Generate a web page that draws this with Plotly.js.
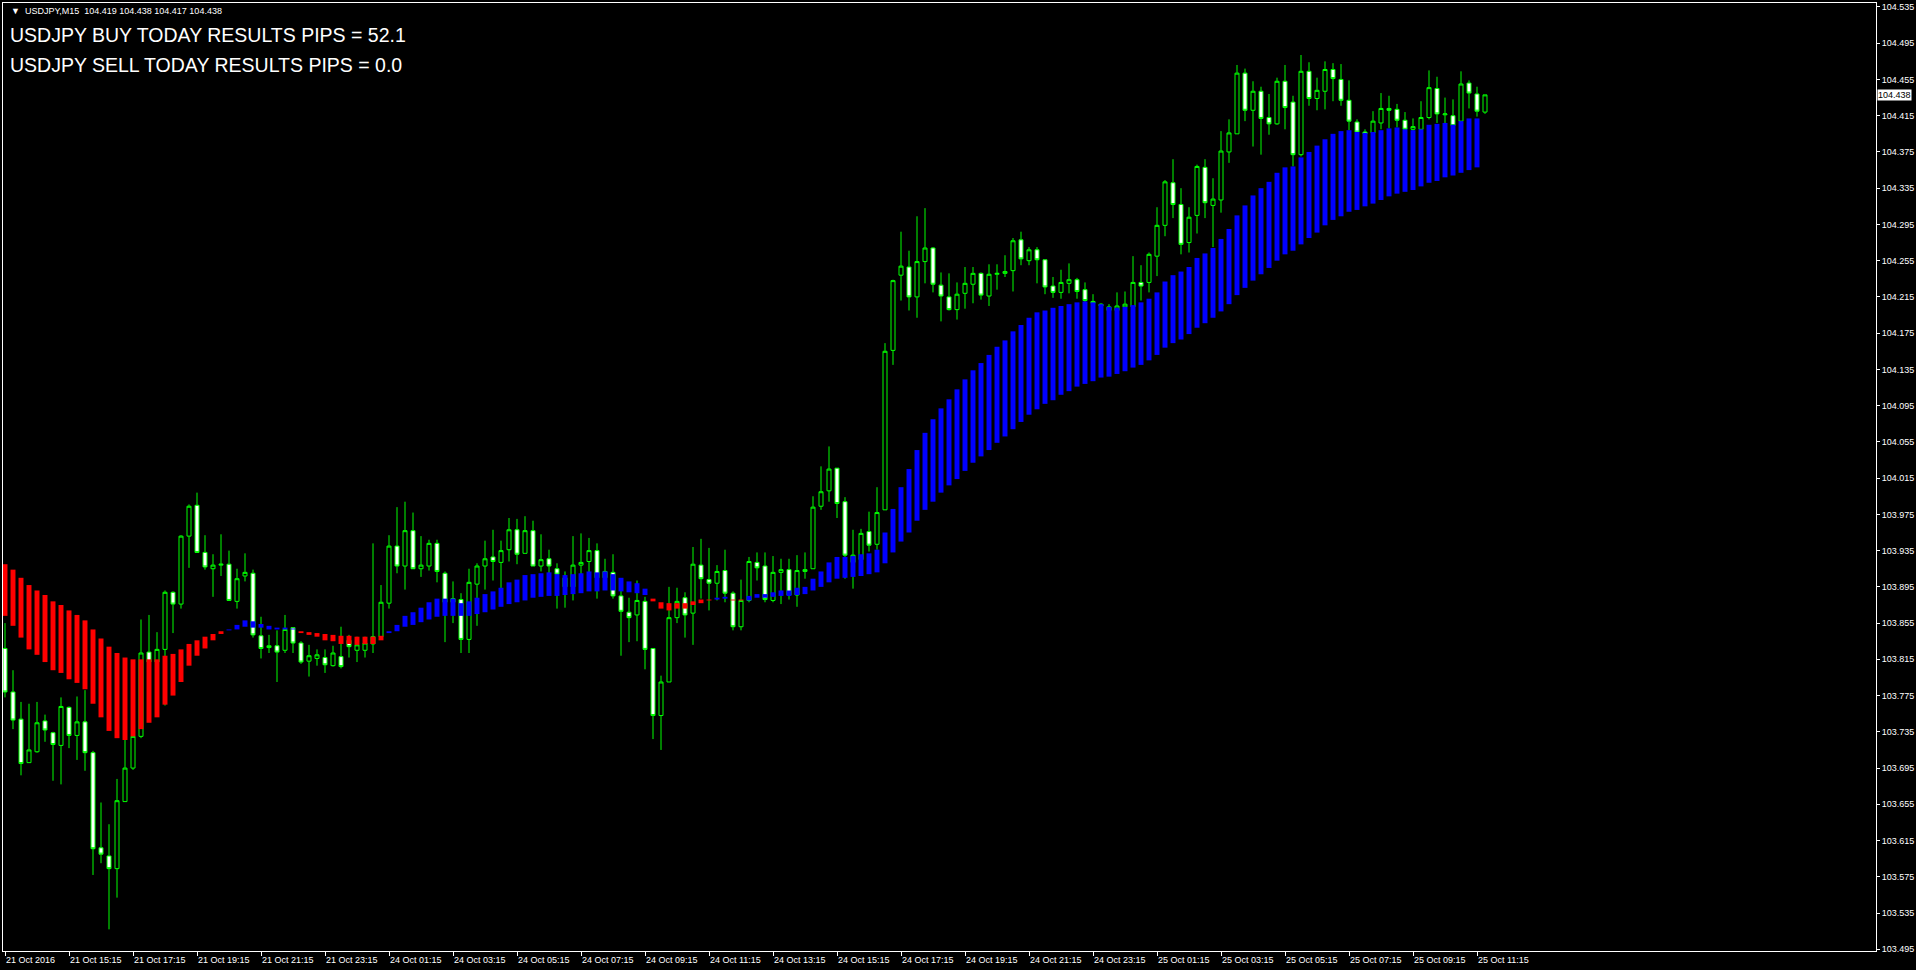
<!DOCTYPE html>
<html><head><meta charset="utf-8">
<script src="https://cdn.plot.ly/plotly-3.0.1.min.js"></script>
<style>html,body{margin:0;padding:0;background:#000;overflow:hidden}#chart{width:1916px;height:970px}</style>
</head><body><div id="chart"></div>
<script>
const symbolName = "USDJPY,M15";
const buyLabel = "USDJPY BUY TODAY RESULTS PIPS";
const sellLabel = "USDJPY SELL TODAY RESULTS PIPS";
const buyPips = "52.1";
const sellPips = "0.0";

const xTickLabels = ["21 Oct 2016","21 Oct 15:15","21 Oct 17:15","21 Oct 19:15","21 Oct 21:15","21 Oct 23:15",
  "24 Oct 01:15","24 Oct 03:15","24 Oct 05:15","24 Oct 07:15","24 Oct 09:15","24 Oct 11:15","24 Oct 13:15",
  "24 Oct 15:15","24 Oct 17:15","24 Oct 19:15","24 Oct 21:15","24 Oct 23:15","25 Oct 01:15","25 Oct 03:15",
  "25 Oct 05:15","25 Oct 07:15","25 Oct 09:15","25 Oct 11:15"];
const barsPerTick = 8;

const yTickLabels = ["103.495","103.535","103.575","103.615","103.655","103.695","103.735","103.775","103.815",
  "103.855","103.895","103.935","103.975","104.015","104.055","104.095","104.135","104.175","104.215","104.255",
  "104.295","104.335","104.375","104.415","104.455","104.495","104.535"];

const openP = [
103.827,103.779,103.749,103.701,103.713,103.747,103.734,103.720,103.762,103.731,
103.746,103.712,103.607,103.598,103.584,103.658,103.695,103.730,103.823,103.812,
103.826,103.889,103.876,103.951,103.985,103.933,103.915,103.919,103.920,103.879,
103.907,103.910,103.841,103.828,103.830,103.825,103.850,103.833,103.813,103.816,
103.817,103.808,103.818,103.836,103.825,103.825,103.832,103.840,103.877,103.940,
103.918,103.957,103.915,103.918,103.943,103.910,103.878,103.881,103.837,103.898,
103.918,103.928,103.922,103.936,103.958,103.932,103.957,103.918,103.926,103.915,
103.905,103.895,103.919,103.923,103.935,103.905,103.911,103.885,103.867,103.864,
103.879,103.827,103.753,103.790,103.861,103.883,103.866,103.919,103.903,103.899,
103.913,103.888,103.851,103.880,103.922,103.918,103.880,103.911,103.914,103.886,
103.912,103.915,103.984,104.001,104.026,103.989,103.922,103.925,103.956,103.942,
103.980,104.156,104.239,104.248,104.215,104.254,104.269,104.228,104.215,104.201,
104.219,104.229,104.241,104.216,104.240,104.241,104.244,104.278,104.255,104.267,
104.256,104.227,104.220,104.230,104.234,104.223,104.210,104.207,104.204,104.200,
104.204,104.204,104.231,104.231,104.260,104.294,104.341,104.317,104.275,104.305,
104.358,104.316,104.322,104.375,104.395,104.462,104.421,104.442,104.413,104.406,
104.453,104.430,104.372,104.464,104.434,104.442,104.466,104.455,104.432,104.408,
104.397,104.396,104.407,104.423,104.422,104.410,104.400,104.400,104.413,104.445,
104.416,104.415,104.409,104.451,104.439,104.419];

const highP = [
103.855,103.803,103.768,103.766,103.768,103.754,103.735,103.773,103.763,103.774,
103.781,103.714,103.657,103.633,103.683,103.726,103.745,103.859,103.864,103.845,
103.891,103.890,103.952,103.986,103.999,103.952,103.931,103.953,103.935,103.915,
103.932,103.914,103.862,103.842,103.847,103.864,103.850,103.835,103.831,103.826,
103.826,103.830,103.851,103.842,103.840,103.840,103.943,103.897,103.952,103.983,
103.989,103.977,103.951,103.947,103.947,103.912,103.901,103.888,103.915,103.921,
103.946,103.958,103.946,103.971,103.970,103.973,103.968,103.953,103.936,103.921,
103.912,103.951,103.954,103.949,103.943,103.926,103.931,103.892,103.883,103.902,
103.884,103.827,103.797,103.895,103.894,103.889,103.939,103.948,103.938,103.919,
103.936,103.890,103.903,103.928,103.933,103.933,103.929,103.926,103.926,103.930,
103.933,103.995,104.028,104.050,104.026,103.994,103.958,103.959,103.978,104.005,
104.164,104.234,104.287,104.266,104.304,104.313,104.270,104.242,104.241,104.231,
104.248,104.248,104.242,104.251,104.251,104.261,104.280,104.287,104.270,104.270,
104.256,104.237,104.245,104.252,104.236,104.231,104.218,104.208,104.207,104.220,
104.221,104.260,104.250,104.264,104.314,104.344,104.367,104.335,104.314,104.361,
104.367,104.346,104.398,104.411,104.471,104.467,104.453,104.447,104.439,104.457,
104.471,104.437,104.482,104.474,104.457,104.475,104.473,104.472,104.454,104.411,
104.400,104.420,104.440,104.437,104.428,104.419,104.412,104.431,104.465,104.458,
104.435,104.433,104.464,104.454,104.447,104.438];

const lowP = [
103.773,103.738,103.687,103.701,103.712,103.724,103.681,103.677,103.717,103.704,
103.692,103.577,103.590,103.517,103.552,103.658,103.693,103.728,103.800,103.805,
103.764,103.844,103.871,103.916,103.933,103.914,103.884,103.907,103.880,103.871,
103.901,103.839,103.816,103.822,103.790,103.822,103.822,103.810,103.796,103.808,
103.800,103.807,103.805,103.817,103.812,103.817,103.822,103.840,103.871,103.910,
103.892,103.915,103.906,103.913,103.900,103.834,103.855,103.822,103.822,103.852,
103.892,103.902,103.892,103.923,103.920,103.932,103.918,103.912,103.910,103.871,
103.872,103.880,103.905,103.910,103.882,103.895,103.882,103.819,103.834,103.835,
103.804,103.727,103.715,103.790,103.855,103.839,103.831,103.882,103.869,103.880,
103.878,103.847,103.847,103.878,103.902,103.878,103.878,103.876,103.881,103.873,
103.904,103.915,103.980,103.989,103.971,103.904,103.893,103.919,103.934,103.936,
103.980,104.140,104.211,104.200,104.192,104.230,104.220,104.188,104.200,104.190,
104.202,104.208,104.212,104.205,104.223,104.237,104.221,104.250,104.250,104.230,
104.218,104.214,104.213,104.219,104.213,104.206,104.202,104.200,104.195,104.195,
104.198,104.200,104.211,104.220,104.238,104.282,104.302,104.262,104.264,104.285,
104.302,104.270,104.308,104.363,104.395,104.409,104.381,104.372,104.394,104.405,
104.400,104.359,104.370,104.426,104.421,104.422,104.431,104.426,104.399,104.390,
104.388,104.390,104.400,104.401,104.402,104.395,104.395,104.396,104.411,104.407,
104.405,104.398,104.404,104.423,104.414,104.417];

const closeP = [
103.779,103.748,103.700,103.715,103.745,103.737,103.721,103.763,103.731,103.746,
103.712,103.606,103.600,103.584,103.659,103.695,103.730,103.822,103.812,103.826,
103.889,103.876,103.951,103.984,103.933,103.917,103.919,103.920,103.880,103.904,
103.911,103.842,103.827,103.830,103.823,103.848,103.833,103.812,103.819,103.820,
103.809,103.822,103.807,103.829,103.831,103.833,103.840,103.878,103.940,103.918,
103.957,103.915,103.919,103.943,103.912,103.878,103.882,103.837,103.900,103.918,
103.926,103.923,103.935,103.958,103.931,103.957,103.918,103.925,103.918,103.909,
103.895,103.919,103.922,103.935,103.905,103.912,103.885,103.868,103.861,103.880,
103.826,103.753,103.790,103.861,103.879,103.864,103.920,103.904,103.899,103.912,
103.888,103.851,103.880,103.923,103.916,103.881,103.911,103.914,103.886,103.913,
103.914,103.983,104.000,104.025,103.987,103.930,103.930,103.954,103.941,103.977,
104.155,104.233,104.249,104.215,104.254,104.269,104.229,104.216,104.201,104.218,
104.230,104.241,104.217,104.240,104.241,104.243,104.277,104.257,104.267,104.256,
104.226,104.220,104.231,104.234,104.221,104.211,104.208,104.205,104.200,104.205,
104.207,104.231,104.227,104.262,104.294,104.342,104.317,104.273,104.303,104.359,
104.319,104.323,104.376,104.396,104.462,104.421,104.442,104.412,104.406,104.453,
104.424,104.372,104.464,104.434,104.443,104.466,104.456,104.432,104.409,104.397,
104.395,104.409,104.423,104.421,104.410,104.400,104.403,104.413,104.446,104.417,
104.417,104.404,104.450,104.440,104.420,104.438];

const indTop = [
103.920,103.914,103.905,103.897,103.891,103.886,103.879,103.875,103.869,103.864,
103.858,103.848,103.838,103.829,103.822,103.817,103.815,103.815,103.815,103.815,
103.819,103.821,103.826,103.832,103.836,103.840,103.843,103.846,103.848,103.853,
103.858,103.857,103.854,103.852,103.850,103.850,103.849,103.846,103.845,103.844,
103.843,103.842,103.841,103.841,103.840,103.840,103.840,103.841,103.846,103.853,
103.863,103.867,103.872,103.878,103.882,103.882,103.882,103.877,103.879,103.883,
103.887,103.890,103.894,103.900,103.903,103.908,103.909,103.910,103.911,103.909,
103.908,103.909,103.910,103.912,103.911,103.912,103.909,103.905,103.901,103.899,
103.893,103.882,103.878,103.877,103.877,103.877,103.879,103.881,103.881,103.883,
103.884,103.881,103.881,103.885,103.887,103.887,103.889,103.891,103.891,103.894,
103.895,103.904,103.912,103.922,103.928,103.928,103.929,103.931,103.932,103.936,
103.955,103.981,104.005,104.025,104.046,104.065,104.080,104.092,104.102,104.113,
104.124,104.134,104.142,104.151,104.160,104.167,104.177,104.184,104.192,104.198,
104.200,104.203,104.205,104.207,104.209,104.210,104.209,104.207,104.204,104.203,
104.204,104.206,104.209,104.213,104.220,104.232,104.239,104.243,104.248,104.258,
104.263,104.269,104.279,104.290,104.305,104.316,104.327,104.335,104.342,104.352,
104.358,104.359,104.369,104.375,104.382,104.389,104.395,104.398,104.399,104.397,
104.396,104.397,104.399,104.401,104.402,104.400,104.399,104.400,104.405,104.406,
104.407,104.405,104.409,104.412,104.412];

const indBottom = [
103.863,103.852,103.839,103.826,103.820,103.812,103.803,103.800,103.793,103.789,
103.782,103.766,103.751,103.736,103.728,103.726,103.730,103.738,103.745,103.751,
103.765,103.775,103.790,103.808,103.819,103.827,103.836,103.843,103.847,103.848,
103.851,103.850,103.850,103.848,103.848,103.848,103.848,103.844,103.842,103.840,
103.836,103.835,103.832,103.832,103.831,103.832,103.832,103.836,103.844,103.846,
103.851,103.853,103.856,103.859,103.862,103.863,103.863,103.863,103.863,103.865,
103.867,103.870,103.873,103.876,103.878,103.880,103.883,103.884,103.885,103.885,
103.886,103.887,103.888,103.890,103.890,103.891,103.891,103.890,103.889,103.888,
103.886,103.879,103.871,103.869,103.871,103.871,103.875,103.877,103.880,103.881,
103.882,103.880,103.880,103.880,103.883,103.883,103.884,103.885,103.885,103.886,
103.887,103.891,103.895,103.900,103.904,103.905,103.906,103.907,103.909,103.911,
103.921,103.933,103.945,103.955,103.968,103.980,103.989,103.999,104.007,104.014,
104.023,104.032,104.039,104.046,104.054,104.061,104.069,104.077,104.085,104.091,
104.097,104.101,104.107,104.111,104.116,104.119,104.122,104.126,104.127,104.130,
104.133,104.137,104.140,104.145,104.151,104.159,104.164,104.168,104.174,104.181,
104.186,104.192,104.199,104.207,104.217,104.225,104.233,104.240,104.247,104.255,
104.262,104.266,104.273,104.280,104.286,104.294,104.300,104.304,104.309,104.311,
104.315,104.318,104.322,104.326,104.329,104.331,104.333,104.337,104.341,104.343,
104.347,104.349,104.352,104.355,104.358];

// 1 = up trend (blue), -1 = down trend (red)
const indTrend = [
-1,-1,-1,-1,-1,-1,-1,-1,-1,-1,
-1,-1,-1,-1,-1,-1,-1,-1,-1,-1,
-1,-1,-1,-1,-1,-1,-1,-1, 1, 1,
 1, 1, 1, 1, 1, 1, 1,-1,-1,-1,
-1,-1,-1,-1,-1,-1,-1,-1, 1, 1,
 1, 1, 1, 1, 1, 1, 1, 1, 1, 1,
 1, 1, 1, 1, 1, 1, 1, 1, 1, 1,
 1, 1, 1, 1, 1, 1, 1, 1, 1, 1,
 1,-1,-1,-1,-1,-1,-1,-1,-1, 1,
 1,-1,-1, 1, 1, 1, 1, 1, 1, 1,
 1, 1, 1, 1, 1, 1, 1, 1, 1, 1,
 1, 1, 1, 1, 1, 1, 1, 1, 1, 1,
 1, 1, 1, 1, 1, 1, 1, 1, 1, 1,
 1, 1, 1, 1, 1, 1, 1, 1, 1, 1,
 1, 1, 1, 1, 1, 1, 1, 1, 1, 1,
 1, 1, 1, 1, 1, 1, 1, 1, 1, 1,
 1, 1, 1, 1, 1, 1, 1, 1, 1, 1,
 1, 1, 1, 1, 1, 1, 1, 1, 1, 1,
 1, 1, 1, 1, 1];

// ---------- build traces ----------
const barIdx = openP.map((_, i) => i);
const indIdx = indTop.map((_, i) => i);

function indSeries(dir) {
  const base = [], len = [];
  indIdx.forEach(i => {
    if (indTrend[i] === dir) {
      base.push(indBottom[i]);
      len.push(indTop[i] - indBottom[i]);
    } else { base.push(null); len.push(null); }
  });
  return {base, len};
}
const red = indSeries(-1), blue = indSeries(1);

const candles = {
  type: 'candlestick', x: barIdx, open: openP, high: highP, low: lowP, close: closeP,
  xaxis: 'x', yaxis: 'y', hoverinfo: 'skip', whiskerwidth: 0,
  increasing: {line: {color: '#00ff00', width: 1}, fillcolor: '#000000'},
  decreasing: {line: {color: '#00ff00', width: 1}, fillcolor: '#ffffff'}
};
const redBars = {type: 'bar', x: indIdx, y: red.len, base: red.base, width: 0.62,
  marker: {color: '#ff0000', line: {width: 0}}, xaxis: 'x2', yaxis: 'y2', hoverinfo: 'skip'};
const blueBars = {type: 'bar', x: indIdx, y: blue.len, base: blue.base, width: 0.62,
  marker: {color: '#0000ff', line: {width: 0}}, xaxis: 'x2', yaxis: 'y2', hoverinfo: 'skip'};

const xRange = [-0.25, 233.875];
const yRange = [103.4931, 104.5394];
const axFont = {family: 'Liberation Sans, Arial, sans-serif', size: 9, color: '#ffffff'};
const last = closeP.length - 1;

const layout = {
  width: 1916, height: 970,
  paper_bgcolor: '#000000', plot_bgcolor: '#000000',
  margin: {l: 3, r: 40, t: 3, b: 19, pad: 0},
  showlegend: false, barmode: 'overlay', boxgap: 0.5, boxgroupgap: 0,
  xaxis: {
    range: xRange, showgrid: false, zeroline: false, showline: true, mirror: true,
    linecolor: '#ffffff', linewidth: 1, ticks: 'outside', ticklen: 4, tickcolor: '#ffffff',
    tickvals: xTickLabels.map((_, k) => k * barsPerTick), ticktext: xTickLabels,
    tickfont: axFont, ticklabelposition: 'outside right', tickangle: 0,
    rangeslider: {visible: false}, fixedrange: true, automargin: false
  },
  yaxis: {
    range: yRange, side: 'right', showgrid: false, zeroline: false, showline: true, mirror: true,
    linecolor: '#ffffff', linewidth: 1, ticks: 'outside', ticklen: 3, tickcolor: '#ffffff',
    tickvals: yTickLabels.map(Number), ticktext: yTickLabels, tickfont: axFont,
    fixedrange: true, automargin: false
  },
  xaxis2: {overlaying: 'x', range: xRange, visible: false, fixedrange: true},
  yaxis2: {overlaying: 'y', range: yRange, visible: false, fixedrange: true},
  annotations: [
    {xref: 'paper', yref: 'paper', x: 0, y: 1, xanchor: 'left', yanchor: 'top', xshift: 6, yshift: -1,
     showarrow: false, align: 'left',
     text: '\u25BC  ' + symbolName + '  ' + [openP[last], highP[last], lowP[last], closeP[last]].map(v => v.toFixed(3)).join(' '),
     font: {family: 'Liberation Sans, Arial, sans-serif', size: 9, color: '#ffffff'}},
    {xref: 'paper', yref: 'paper', x: 0, y: 1, xanchor: 'left', yanchor: 'top', xshift: 5, yshift: -19,
     showarrow: false, align: 'left', text: buyLabel + ' = ' + buyPips,
     font: {family: 'Liberation Sans, Arial, sans-serif', size: 19.5, color: '#ffffff'}},
    {xref: 'paper', yref: 'paper', x: 0, y: 1, xanchor: 'left', yanchor: 'top', xshift: 5, yshift: -49,
     showarrow: false, align: 'left', text: sellLabel + ' = ' + sellPips,
     font: {family: 'Liberation Sans, Arial, sans-serif', size: 19.5, color: '#ffffff'}},
    {xref: 'paper', yref: 'y', x: 1, y: closeP[last], xanchor: 'left', yanchor: 'middle', xshift: 1,
     showarrow: false, text: closeP[last].toFixed(3), bgcolor: '#ffffff', borderpad: 0,
     font: {family: 'Liberation Sans, Arial, sans-serif', size: 9, color: '#000000'}}
  ]
};

Plotly.newPlot('chart', [candles, redBars, blueBars], layout, {staticPlot: true, displayModeBar: false});
</script>
</body></html>
